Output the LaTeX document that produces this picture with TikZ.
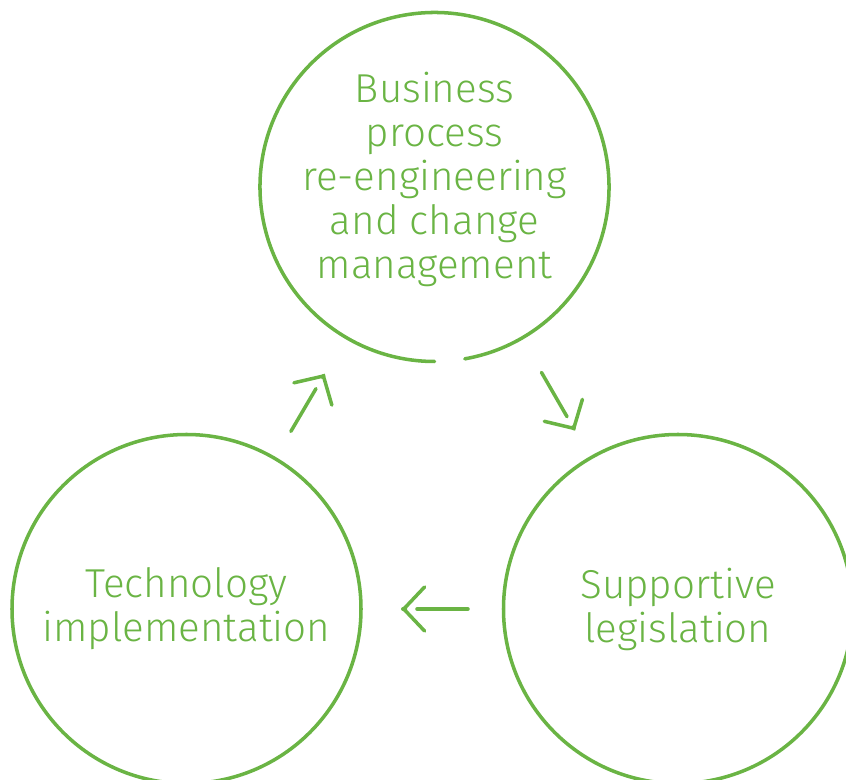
\documentclass[tikz,border=0pt]{standalone}
\usepackage{fontspec}
\setmainfont{Fira Sans}[UprightFont=* Light]
\usetikzlibrary{arrows.meta,calc}
\definecolor{leaf}{RGB}{106,180,68}
\tikzset{
    words/.style={align=center, text=leaf, font=\fontsize{28.7}{31.3}\selectfont},
    ring/.style={words, circle, minimum size=8.725cm, inner sep=0pt, outer sep=0pt,
        draw=leaf, line width=2.5pt},
    shaft/.style={leaf, line width=2.5pt, line cap=round},
    head/.style={shaft, -{Straight Barb[round, length=0.52cm, width=1.1cm]}},
}
\begin{document}
\begin{tikzpicture}
    \useasboundingbox (0,0) rectangle (21.15,19.475);
    \coordinate (top) at (10.8625,14.8);
    \node[words] (bpr) at (10.8625,15.0) {Business\\process\\re-engineering\\and change\\management};
    \node[ring] (tech) at (4.6625,4.25) {Technology\\implementation};
    \node[ring] (legis) at (16.95,4.25) {Supportive\\legislation};
    \draw[shaft] (top) ++(-80:4.3625cm) arc[start angle=-80, end angle=270, radius=4.3625cm];
    % tech -> top
    \draw[shaft] ($(tech)!5.15cm!(top)$) -- ($(tech)!6.39cm!(top)$);
    \draw[head] ($(tech)!6.78cm!(top)$) -- ($(tech)!6.8cm!(top)$);
    % top -> legis
    \draw[shaft] ($(top)!5.35cm!(legis)$) -- ($(top)!6.63cm!(legis)$);
    \draw[head] ($(top)!6.99cm!(legis)$) -- ($(top)!7.01cm!(legis)$);
    % legis -> tech
    \draw[shaft] ($(legis)!5.25cm!(tech)$) -- ($(legis)!6.525cm!(tech)$);
    \draw[head] ($(legis)!6.88cm!(tech)$) -- ($(legis)!6.9cm!(tech)$);
\end{tikzpicture}
\end{document}
